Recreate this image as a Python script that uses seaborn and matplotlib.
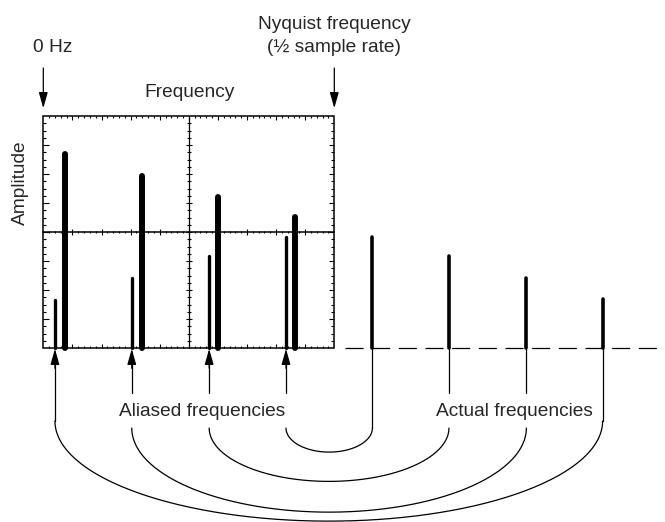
import numpy as np
import matplotlib.pyplot as plt
import seaborn as sns
from matplotlib.patches import Rectangle

# frequency / amplitude in screen divisions (10 x 8 graticule, Nyquist = right edge)
signal_freq = [0.75, 3.40, 6.01, 8.65]
signal_amp = [6.68, 5.92, 5.20, 4.53]
aliased_freq = [0.40, 3.04, 5.70, 8.34]
aliased_amp = [1.67, 2.43, 3.16, 3.82]
actual_freq = [11.31, 13.94, 16.60, 19.22]
actual_amp = [3.82, 3.17, 2.43, 1.68]

nyquist = 10.0
screen_h = 8.0

sns.set_theme(style="white")
plt.rcParams['font.family'] = ['Liberation Sans', 'DejaVu Sans']
plt.rcParams['lines.scale_dashes'] = False

fig = plt.figure(figsize=(6.65, 5.22), dpi=100)
ax = fig.add_axes([0, 0, 1, 1])
ax.set_xlim(-43.3 / 29.1, (665 - 43.3) / 29.1)
ax.set_ylim(-6.0, 12.0)
ax.axis('off')

k = 'black'
fs = 13.8

# graticule
ax.add_patch(Rectangle((0, 0), nyquist, screen_h, fill=False, lw=1.1, ec=k, zorder=3))
ax.plot([nyquist / 2] * 2, [0, screen_h], color=k, lw=0.9, zorder=3)
ax.plot([0, nyquist], [screen_h / 2] * 2, color=k, lw=1.1, zorder=3)

xs = np.arange(0, nyquist + 0.001, 0.2)[1:-1]
xlen = np.where(np.isclose(xs % 1, 0) | np.isclose(xs % 1, 1), 0.15, 0.08)
ax.vlines(xs, 0, xlen, color=k, lw=0.8)
ax.vlines(xs, screen_h - xlen, screen_h, color=k, lw=0.8)
ax.vlines(xs, screen_h / 2 - xlen * 0.6, screen_h / 2 + xlen * 0.6, color=k, lw=0.8)

ys = np.arange(0, screen_h + 0.001, 0.25)[1:-1]
ylen = np.where(np.isclose(ys % 1, 0) | np.isclose(ys % 1, 1), 0.18, 0.1)
ax.hlines(ys, 0, ylen, color=k, lw=0.8)
ax.hlines(ys, nyquist - ylen, nyquist, color=k, lw=0.8)
ax.hlines(ys, nyquist / 2 - ylen * 0.6, nyquist / 2 + ylen * 0.6, color=k, lw=0.8)

# dashed baseline beyond the screen
ax.plot([10.37, 21.5], [0, 0], color=k, lw=0.9, dashes=(13, 6.2), zorder=1)

# spectral lines
ax.vlines(signal_freq, 0, signal_amp, color=k, lw=4.3, capstyle='round', zorder=4)
ax.vlines(aliased_freq, 0, aliased_amp, color=k, lw=2.4, capstyle='round', zorder=4)
ax.vlines(actual_freq, 0, actual_amp, color=k, lw=2.6, capstyle='round', zorder=4)

arrow = dict(arrowstyle='-|>,head_length=0.95,head_width=0.27', color=k, lw=0.9,
             shrinkA=0, shrinkB=0, mutation_scale=10)

# top arrows and labels
ax.annotate('', xy=(0, 8.27), xytext=(0, 9.655), arrowprops=arrow)
ax.annotate('', xy=(nyquist, 8.27), xytext=(nyquist, 9.655), arrowprops=arrow)
ax.text(0.333, 10.19, '0 Hz', ha='center', va='baseline', fontsize=fs)
ax.text(nyquist, 11.01, 'Nyquist frequency', ha='center', va='baseline', fontsize=fs)
ax.text(nyquist, 10.19, '(½ sample rate)', ha='center', va='baseline', fontsize=fs)
ax.text(5.02, 8.655, 'Frequency', ha='center', va='baseline', fontsize=fs)
ax.text(-0.77, 5.7, 'Amplitude', ha='center', va='center', rotation=90, fontsize=fs)

# connectors between aliased and actual components
text_bottom = -1.55
arc_top = [-2.52, -2.76, -2.76, -2.76]
arc_depth = [3.45, 2.9, 1.84, 0.83]
has_gap = [False, True, True, True]
actual_gap = [False, True, True, False]
t = np.linspace(np.pi, 2 * np.pi, 200)
for i, xa in enumerate(aliased_freq):
    xb = actual_freq[len(actual_freq) - 1 - i]
    y0 = arc_top[i]
    ax.annotate('', xy=(xa, -0.03), xytext=(xa, -0.7), arrowprops=arrow)
    if has_gap[i]:
        ax.plot([xa, xa], [-0.5, text_bottom], color=k, lw=0.9)
    else:
        ax.plot([xa, xa], [-0.5, y0], color=k, lw=0.9)
    if actual_gap[i]:
        ax.plot([xb, xb], [0, text_bottom], color=k, lw=0.9)
    else:
        ax.plot([xb, xb], [0, y0], color=k, lw=0.9)
    cx, a = (xa + xb) / 2, (xb - xa) / 2
    ax.plot(cx + a * np.cos(t), y0 + arc_depth[i] * np.sin(t), color=k, lw=0.9)

ax.text(5.46, -2.33, 'Aliased frequencies', ha='center', va='baseline', fontsize=fs)
ax.text(16.18, -2.33, 'Actual frequencies', ha='center', va='baseline', fontsize=fs)

fig.savefig('out.png', dpi=100, facecolor='white')
